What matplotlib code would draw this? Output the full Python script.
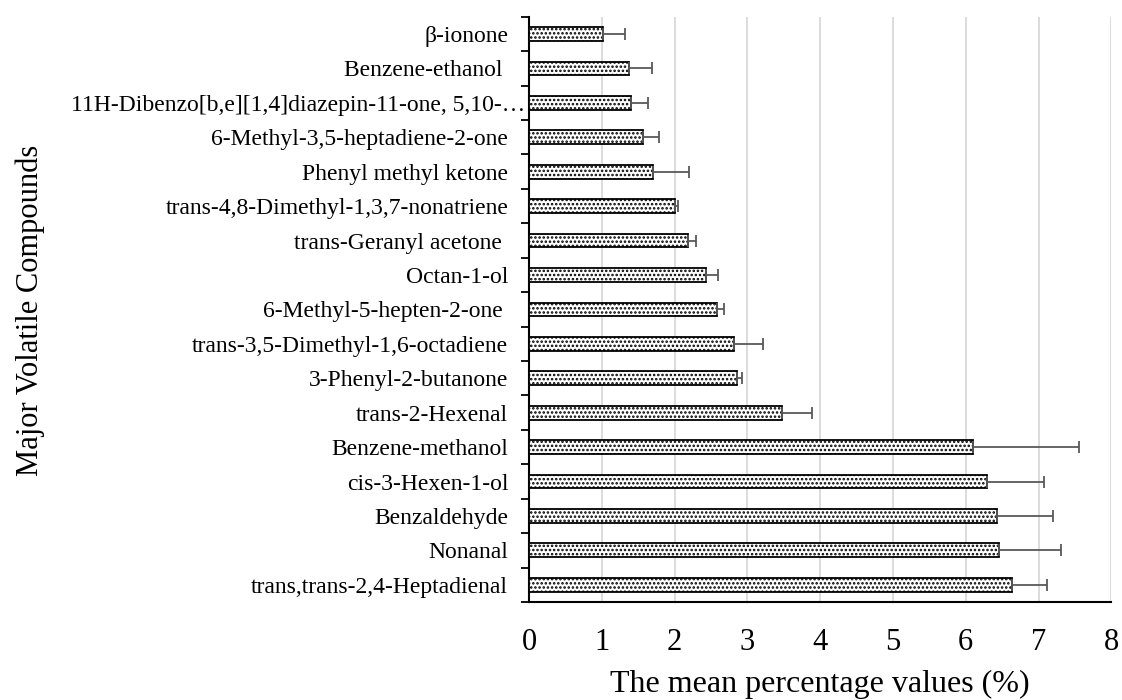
import numpy as np
import matplotlib.pyplot as plt
import matplotlib.transforms as mtransforms

plt.rcParams["font.family"] = ["Liberation Serif", "DejaVu Serif"]
plt.rcParams["hatch.linewidth"] = 1.2

# data, listed top to bottom as in the chart
compounds = [
    "\u03b2-ionone",
    "Benzene-ethanol ",
    "11H-Dibenzo[b,e][1,4]diazepin-11-one, 5,10-\u2026",
    "6-Methyl-3,5-heptadiene-2-one",
    "Phenyl methyl ketone",
    "trans-4,8-Dimethyl-1,3,7-nonatriene",
    "trans-Geranyl acetone ",
    "Octan-1-ol",
    "6-Methyl-5-hepten-2-one ",
    "trans-3,5-Dimethyl-1,6-octadiene",
    "3-Phenyl-2-butanone",
    "trans-2-Hexenal",
    "Benzene-methanol",
    "cis-3-Hexen-1-ol",
    "Benzaldehyde",
    "Nonanal",
    "trans,trans-2,4-Heptadienal",
]
means = [1.02, 1.37, 1.40, 1.57, 1.70, 2.00, 2.18, 2.43, 2.58, 2.82, 2.86, 3.47,
         6.10, 6.29, 6.43, 6.46, 6.63]
errors = [0.30, 0.32, 0.23, 0.21, 0.50, 0.05, 0.12, 0.17, 0.10, 0.40, 0.07, 0.42,
          1.46, 0.79, 0.77, 0.85, 0.48]

# =========================================
# PLOT
# =========================================

fig = plt.figure(figsize=(11.22, 7), dpi=100)
ax = fig.add_axes([0.4715, 0.14, 0.519, 0.836])

y = np.arange(len(compounds))
ax.barh(y, means, height=0.4, color="white", edgecolor="black",
        linewidth=1.3, hatch="....", zorder=3)
ax.errorbar(means, y, xerr=[np.zeros(len(errors)), errors], fmt="none",
            ecolor="#595959", elinewidth=1.3, capsize=4, capthick=1.3, zorder=4)

ax.set_xlim(0, 8)
ax.set_ylim(len(compounds) - 0.5, -0.5)
ax.set_xticks(range(9))
ax.tick_params(axis="x", length=0, labelsize=22, pad=19)

# ticks on the boundaries, labels in the middle
ax.set_yticks(np.arange(-0.5, len(compounds), 1))
ax.set_yticklabels([])
ax.tick_params(axis="y", which="major", direction="out", length=6, width=1.3)
ax.set_yticks(y, minor=True)
ax.set_yticklabels(compounds, minor=True)
ax.tick_params(axis="y", which="minor", length=0, labelsize=17, pad=15)

# the long truncated name runs up to the axis
long_lbl = ax.get_yticklabels(minor=True)[2]
long_lbl.set_transform(long_lbl.get_transform() +
                       mtransforms.ScaledTranslation(0.17, 0, fig.dpi_scale_trans))

ax.grid(axis="x", color="#d9d9d9", linewidth=1.3, zorder=0)
ax.spines["top"].set_visible(False)
ax.spines["right"].set_visible(False)
ax.spines["left"].set_linewidth(1.5)
ax.spines["bottom"].set_linewidth(1.5)

ax.set_xlabel("The mean percentage values (%)", fontsize=23, labelpad=9)
fig.text(0.027, 0.557, "Major Volatile Compounds", rotation=90,
         fontsize=22, va="center", ha="center")

plt.savefig("out.png", dpi=100)
